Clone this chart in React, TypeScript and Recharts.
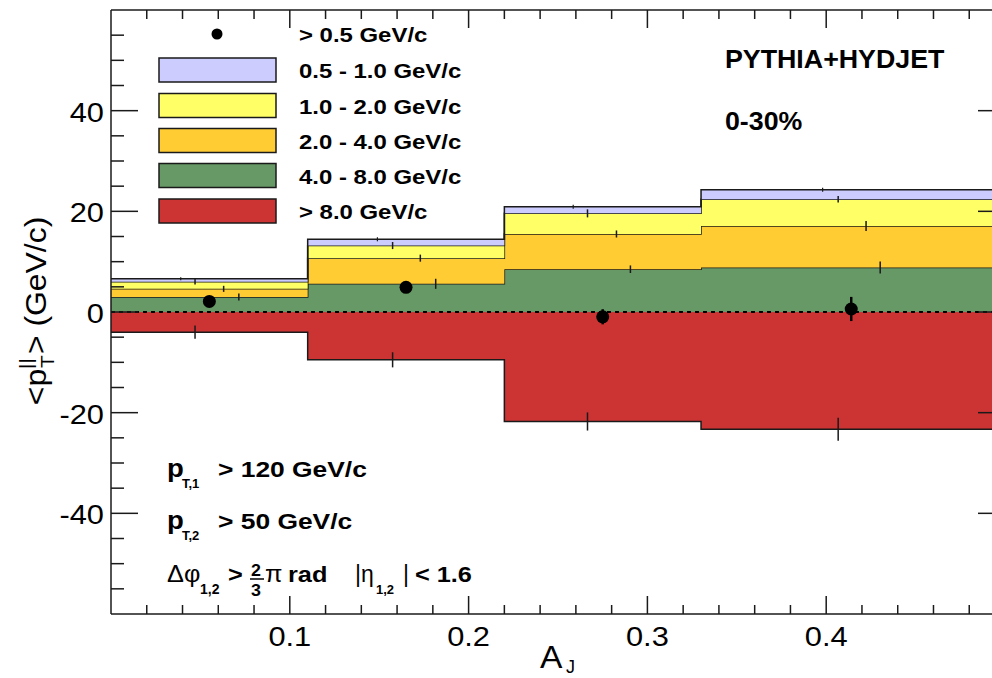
import React from 'react';
import { ComposedChart, Area, Scatter, ErrorBar, XAxis, YAxis, ReferenceLine } from 'recharts';

// ---------------- data ----------------
const BIN_EDGES = [0, 0.11, 0.22, 0.33, 0.5];
// per-band contributions to <p_T^||> (GeV/c), one value per A_J bin
const BAND_GT8 = [-4.0, -9.5, -21.75, -23.3];
const BAND_4_8 = [3.0, 5.6, 8.5, 8.85];
const BAND_2_4 = [1.6, 5.1, 7.0, 8.25];
const BAND_1_2 = [1.4, 2.5, 4.1, 5.3];
const BAND_05_1 = [0.6, 1.25, 1.3, 1.9];

// statistical error bars drawn on each band level
const ERR_X_05_1 = [0.039, 0.149, 0.2585, 0.398];
const ERR_X_1_2 = [0.047, 0.1575, 0.2665, 0.4067];
const ERR_X_2_4 = [0.063, 0.173, 0.2827, 0.4223];
const ERR_X_4_8 = [0.0715, 0.1816, 0.2905, 0.4302];
const ERR_X_GT8 = [0.047, 0.1575, 0.2665, 0.4067];
const ERR_05_1 = [0.3, 0.4, 0.4, 0.4];
const ERR_1_2 = [0.55, 0.7, 0.8, 0.65];
const ERR_2_4 = [0.6, 0.7, 0.7, 1.0];
const ERR_4_8 = [0.7, 1.0, 0.75, 1.2];
const ERR_GT8 = [1.3, 1.5, 1.8, 2.3];

// total > 0.5 GeV/c points
const TOTAL_X = [0.055, 0.165, 0.275, 0.414];
const TOTAL_Y = [2.1, 4.9, -0.95, 0.6];
const TOTAL_ERR = [0.6, 0.8, 1.5, 2.4];

const X_MAJOR = [0.1, 0.2, 0.3, 0.4];
const X_LABELS = ['0.1', '0.2', '0.3', '0.4'];
const X_MINOR = [0.02, 0.04, 0.06, 0.08, 0.12, 0.14, 0.16, 0.18, 0.22, 0.24, 0.26, 0.28, 0.32, 0.34, 0.36, 0.38, 0.42, 0.44, 0.46, 0.48];
const Y_MAJOR = [-40, -20, 0, 20, 40];
const Y_LABELS = ['-40', '-20', '0', '20', '40'];
const Y_MINOR = [-55, -50, -45, -35, -30, -25, -15, -10, -5, 5, 10, 15, 25, 30, 35, 45, 50, 55];

const LEGEND_LABELS = ['> 0.5 GeV/c', '0.5 - 1.0 GeV/c', '1.0 - 2.0 GeV/c', '2.0 - 4.0 GeV/c', '4.0 - 8.0 GeV/c', '> 8.0 GeV/c'];

// ---------------- styles ----------------
const FONT = '"Liberation Sans", Arial, Helvetica, sans-serif';
const C_LAV = '#ccccff';
const C_YEL = '#ffff66';
const C_ORA = '#ffcc33';
const C_GRN = '#669966';
const C_RED = '#cc3333';
const INK = '#1a1a1a';

// ---------------- derived tables ----------------
const histData = BIN_EDGES.map((x, i) => {
  const j = Math.min(i, BAND_GT8.length - 1);
  return {
    x,
    gt8: BAND_GT8[j],
    b48: BAND_4_8[j],
    b24: BAND_2_4[j],
    b12: BAND_1_2[j],
    b051: BAND_05_1[j],
  };
});

const cum48 = BAND_4_8.map((v) => v);
const cum24 = cum48.map((v, i) => v + BAND_2_4[i]);
const cum12 = cum24.map((v, i) => v + BAND_1_2[i]);
const cum051 = cum12.map((v, i) => v + BAND_05_1[i]);

const mk = (xs: number[], ys: number[], es: number[]) => xs.map((x, i) => ({ x, y: ys[i], err: es[i] }));
const errLav = mk(ERR_X_05_1, cum051, ERR_05_1);
const errYel = mk(ERR_X_1_2, cum12, ERR_1_2);
const errOra = mk(ERR_X_2_4, cum24, ERR_2_4);
const errGrn = mk(ERR_X_4_8, cum48, ERR_4_8);
const errRed = mk(ERR_X_GT8, BAND_GT8, ERR_GT8);
const totalData = mk(TOTAL_X, TOTAL_Y, TOTAL_ERR);

const X_TICKS = [...X_MINOR, ...X_MAJOR].sort((a, b) => a - b);
const Y_TICKS = [...Y_MINOR, ...Y_MAJOR].sort((a, b) => a - b);

const near = (a: number, b: number) => Math.abs(a - b) < 1e-9;

// ---------------- helpers ----------------
const SText = ({ x, y, sx = 1, anchor = 'start', size, weight = 'normal', children }: any) => (
  <g transform={`translate(${x},${y}) scale(${sx},1)`}>
    <text x={0} y={0} textAnchor={anchor} fontSize={size} fontWeight={weight} fontFamily={FONT} fill="#000">
      {children}
    </text>
  </g>
);

const BottomTick = (props: any) => {
  const { x, y, payload } = props;
  const idx = X_MAJOR.findIndex((m) => near(m, payload.value));
  const major = idx >= 0;
  return (
    <g>
      <line x1={x} x2={x} y1={y} y2={y - (major ? 18 : 9)} stroke={INK} strokeWidth={1.5} />
      {major && (
        <SText x={x} y={y + 32} sx={1.1} anchor="middle" size={28}>
          {X_LABELS[idx]}
        </SText>
      )}
    </g>
  );
};

const TopTick = (props: any) => {
  const { x, y, payload } = props;
  const major = X_MAJOR.some((m) => near(m, payload.value));
  return <line x1={x} x2={x} y1={y} y2={y + (major ? 18 : 9)} stroke={INK} strokeWidth={1.5} />;
};

const LeftTick = (props: any) => {
  const { x, y, payload } = props;
  const idx = Y_MAJOR.findIndex((m) => near(m, payload.value));
  const major = idx >= 0;
  return (
    <g>
      <line x1={x} x2={x + (major ? 27 : 13)} y1={y} y2={y} stroke={INK} strokeWidth={1.5} />
      {major && (
        <SText x={x - 7} y={y + 11} sx={1.1} anchor="end" size={28}>
          {Y_LABELS[idx]}
        </SText>
      )}
    </g>
  );
};

const RightTick = (props: any) => {
  const { x, y, payload } = props;
  const major = Y_MAJOR.some((m) => near(m, payload.value));
  return <line x1={x} x2={x - (major ? 27 : 13)} y1={y} y2={y} stroke={INK} strokeWidth={1.5} />;
};

const Hidden = () => <g />;
const Dot = (p: any) => <circle cx={p.cx} cy={p.cy} r={6.5} fill="#000" />;

const LEGEND_ROWS = [34, 70, 105.5, 140.5, 175.5, 211];
const LEGEND_FILLS = [C_LAV, C_YEL, C_ORA, C_GRN, C_RED];

const LegendBlock = () => (
  <g>
    <circle cx={217} cy={LEGEND_ROWS[0]} r={5.5} fill="#000" />
    <SText x={299} y={LEGEND_ROWS[0] + 8} sx={1.14} size={21} weight="bold">
      {LEGEND_LABELS[0]}
    </SText>
    {LEGEND_FILLS.map((f, i) => (
      <g key={i}>
        <rect x={159} y={LEGEND_ROWS[i + 1] - 12} width={117} height={24} fill={f} stroke={INK} strokeWidth={1.5} />
        <SText x={299} y={LEGEND_ROWS[i + 1] + 8} sx={1.14} size={21} weight="bold">
          {LEGEND_LABELS[i + 1]}
        </SText>
      </g>
    ))}
  </g>
);

const Annotations = () => (
  <g>
    <SText x={725} y={68} sx={1.03} size={26} weight="bold">PYTHIA+HYDJET</SText>
    <SText x={725} y={129.5} sx={1.07} size={25} weight="bold">0-30%</SText>

    {/* cuts */}
    <SText x={167} y={477} sx={1.1} size={25} weight="bold">p</SText>
    <SText x={182} y={488} sx={1.0} size={13} weight="bold">T,1</SText>
    <SText x={218} y={477} sx={1.2} size={22} weight="bold">&gt; 120 GeV/c</SText>

    <SText x={167} y={529} sx={1.1} size={25} weight="bold">p</SText>
    <SText x={182} y={540} sx={1.0} size={13} weight="bold">T,2</SText>
    <SText x={218} y={529} sx={1.2} size={22} weight="bold">&gt; 50 GeV/c</SText>

    <SText x={167} y={582} sx={1.1} size={23}>Δφ</SText>
    <SText x={200} y={594} sx={1.0} size={14} weight="bold">1,2</SText>
    <SText x={228} y={582} sx={1.15} size={22} weight="bold">&gt;</SText>
    <SText x={251} y={576} sx={1.05} size={17} weight="bold">2</SText>
    <line x1={250} x2={264} y1={579} y2={579} stroke="#000" strokeWidth={1.5} />
    <SText x={251} y={596} sx={1.05} size={17} weight="bold">3</SText>
    <SText x={265} y={582} sx={1.1} size={23}>π</SText>
    <SText x={288} y={582} sx={1.15} size={22} weight="bold">rad</SText>
    <SText x={355} y={582} sx={1.0} size={23}>|η</SText>
    <SText x={376} y={594} sx={1.0} size={13} weight="bold">1,2</SText>
    <SText x={403} y={582} sx={1.0} size={23}>|</SText>
    <SText x={415} y={582} sx={1.15} size={22} weight="bold">&lt; 1.6</SText>

    {/* axis titles */}
    <SText x={540} y={668} sx={1.05} size={32}>A</SText>
    <SText x={566} y={673} sx={1.0} size={18}>J</SText>
    <g transform="translate(46,311) rotate(-90) scale(1.1,1)">
      <text x={0} y={0} textAnchor="middle" fontSize={29} fontFamily={FONT} fill="#000">
        {'<p'}
        <tspan fontSize={19} dy={-14}>||</tspan>
        <tspan fontSize={19} dx={-9} dy={22}>T</tspan>
        <tspan fontSize={29} dx={1} dy={-8}>{'> (GeV/c)'}</tspan>
      </text>
    </g>
  </g>
);

const areaCommon = {
  xAxisId: 'b',
  yAxisId: 'l',
  type: 'stepAfter' as const,
  stackId: 'pt',
  stroke: INK,
  strokeWidth: 1.5,
  fillOpacity: 1,
  isAnimationActive: false,
  dot: false,
  activeDot: false,
};

const errScatter = (data: any[], key: string, w = 1.5) => (
  <Scatter key={key} data={data} dataKey="y" xAxisId="b" yAxisId="l" shape={Hidden} isAnimationActive={false}>
    <ErrorBar dataKey="err" direction="y" width={0} stroke={INK} strokeWidth={w} isAnimationActive={false} />
  </Scatter>
);

export default function App() {
  return (
    <div style={{ position: 'absolute', left: 0, top: 0, width: 992, height: 678, overflow: 'hidden', background: '#fff' }}>
      <ComposedChart width={1030} height={678} data={histData} stackOffset="sign" margin={{ top: 0, right: 0, bottom: 0, left: 0 }}>
        <XAxis
          xAxisId="b"
          type="number"
          dataKey="x"
          domain={[0, 0.5]}
          allowDataOverflow
          ticks={X_TICKS}
          interval={0}
          tick={<BottomTick />}
          tickLine={false}
          tickSize={0}
          tickMargin={0}
          height={64}
          axisLine={{ stroke: INK, strokeWidth: 1.5 }}
        />
        <XAxis
          xAxisId="t"
          orientation="top"
          type="number"
          dataKey="x"
          domain={[0, 0.5]}
          allowDataOverflow
          ticks={X_TICKS}
          interval={0}
          tick={<TopTick />}
          tickLine={false}
          tickSize={0}
          tickMargin={0}
          height={10}
          axisLine={{ stroke: INK, strokeWidth: 1.5 }}
        />
        <YAxis
          yAxisId="l"
          type="number"
          domain={[-60, 60]}
          allowDataOverflow
          ticks={Y_TICKS}
          interval={0}
          tick={<LeftTick />}
          tickLine={false}
          tickSize={0}
          tickMargin={0}
          width={111}
          axisLine={{ stroke: INK, strokeWidth: 1.5 }}
        />
        <YAxis
          yAxisId="r"
          orientation="right"
          type="number"
          domain={[-60, 60]}
          allowDataOverflow
          ticks={Y_TICKS}
          interval={0}
          tick={<RightTick />}
          tickLine={false}
          tickSize={0}
          tickMargin={0}
          width={25}
          axisLine={{ stroke: INK, strokeWidth: 1.5 }}
        />

        <Area {...areaCommon} dataKey="gt8" fill={C_RED} name="> 8.0 GeV/c" />
        <Area {...areaCommon} dataKey="b48" fill={C_GRN} name="4.0 - 8.0 GeV/c" />
        <Area {...areaCommon} dataKey="b24" fill={C_ORA} name="2.0 - 4.0 GeV/c" />
        <Area {...areaCommon} dataKey="b12" fill={C_YEL} name="1.0 - 2.0 GeV/c" />
        <Area {...areaCommon} dataKey="b051" fill={C_LAV} name="0.5 - 1.0 GeV/c" />

        <ReferenceLine xAxisId="b" yAxisId="l" y={0} stroke="#000" strokeWidth={1.8} strokeDasharray="4 4" />

        {errScatter(errLav, 'eLav', 1.2)}
        {errScatter(errYel, 'eYel')}
        {errScatter(errOra, 'eOra')}
        {errScatter(errGrn, 'eGrn')}
        {errScatter(errRed, 'eRed')}

        <Scatter data={totalData} dataKey="y" xAxisId="b" yAxisId="l" shape={Dot} isAnimationActive={false} name="> 0.5 GeV/c">
          <ErrorBar dataKey="err" direction="y" width={0} stroke="#000" strokeWidth={2.5} isAnimationActive={false} />
        </Scatter>

        <LegendBlock />
        <Annotations />
      </ComposedChart>
    </div>
  );
}
